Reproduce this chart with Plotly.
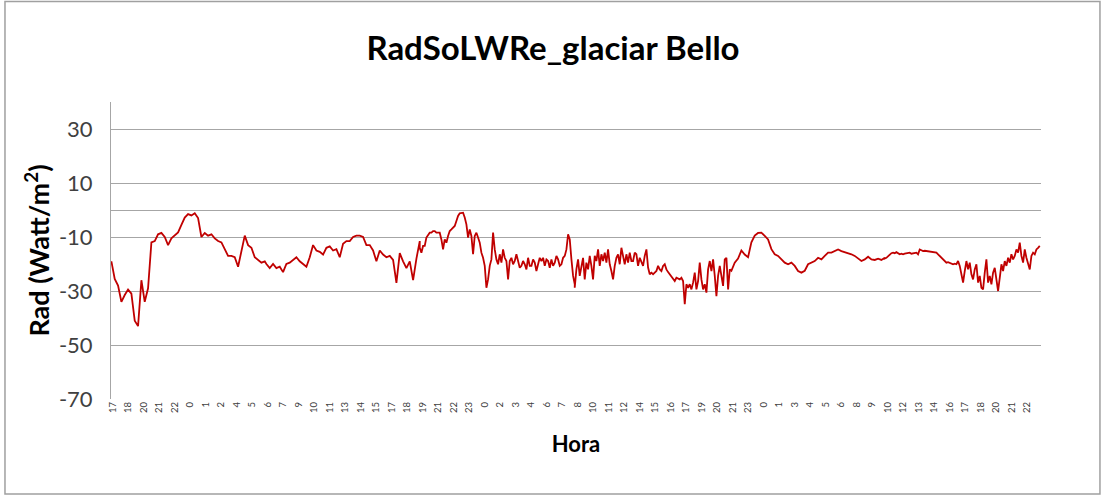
import numpy as np
import plotly.graph_objects as go

# Hour labels shown on the category axis
hour_labels = ["17","18","20","21","22","0","1","2","4","5","6","7","9","10","11","13","14","15",
               "17","18","19","21","22","23","0","2","3","4","6","7","8","10","11","12","14","15",
               "16","17","19","20","21","23","0","1","3","4","5","6","8","9","10","12","13","14",
               "16","17","18","20","21","22"]

y_ticks = [-70, -50, -30, -10, 10, 30]
y_tick_text = ["-70", "-50", "-30", "-10", "10", "30"]

# Radiation readings (W/m2), in six consecutive time blocks
# (each block spans 10 label slots; blocks 1,2,5 read coarser, 3,4,6 read finer)
rad_seg1 = [-19,-25.5,-28,-34,-31.5,-29.5,-31,-41,-43,-26,-34,-29,-12,-11.5,-9,-8.5,-10,-13,-10.5,-9.5,
            -8.3,-5.5,-2.8,-1.5,-2,-1.2,-3,-10,-8.5,-9.5,-9,-10.5,-11.5,-12,-14.5,-17,-17,-17.5,-21,-15,
            -9.5,-13,-14,-17.5,-18.5,-19.5,-19]
rad_seg2 = [-20,-21.5,-20,-21.5,-21,-23,-20,-19.5,-18.5,-17.5,-19,-20,-21,-17.5,-13,-15,-15.5,-16.5,-14,-13.5,
            -15,-14.5,-17.5,-12.5,-11.5,-11.5,-10,-9.5,-9.5,-10,-13,-13,-15,-19,-15,-16.5,-17.5,-17,-18.5,-27,
            -16,-19,-21.5,-19,-26,-18,-11.5]
rad_seg3 = [-14.0,-15.8,-13.3,-13.3,-10.2,-9.0,-8.4,-8.4,-7.8,-7.8,-8.4,-8.4,-8.4,-10.9,-14.6,-10.9,-12.1,-9.6,-7.8,-7.2,
            -6.5,-5.9,-4.1,-2.2,-1.2,-1.0,-1.0,-2.8,-5.3,-10.2,-7.2,-9.6,-16.4,-9.6,-8.4,-10.2,-12.1,-15.8,-17.7,-20.7,
            -28.8,-25.7,-20.7,-18.3,-8.4,-14.6,-18.3,-20.1,-16.4,-19.5,-14.6,-17.7,-18.9,-25.7,-18.9,-17.7,-20.1,-18.9,-16.4,-18.9,
            -21.4,-20.7,-18.9,-20.1,-22.0,-17.7,-20.7,-20.7,-18.3,-19.5,-22.6,-20.1,-17.7,-18.9,-17.7,-20.7,-18.3,-18.9,-21.4,-18.3,
            -20.7,-19.5,-17.0,-18.3,-20.7,-20.1,-17.7,-17.0,-14.6,-9.0,-10.9,-18.3,-24.4,-27.5]
rad_seg4 = [-28.8,-22.0,-18.3,-24.4,-20.7,-17.7,-25.7,-19.5,-22.0,-17.0,-20.7,-25.7,-17.0,-18.9,-14.6,-20.7,-16.4,-18.9,-15.8,-19.5,
            -14.6,-20.1,-22.6,-25.7,-20.7,-17.7,-16.4,-20.1,-14.0,-17.7,-20.1,-16.4,-19.5,-15.8,-18.9,-18.9,-15.8,-16.4,-20.7,-17.7,
            -19.5,-20.7,-17.0,-14.6,-21.3,-23.8,-23.2,-23.8,-23.2,-22.6,-20.7,-22.0,-22.6,-20.7,-20.1,-22.0,-23.0,-23.8,-24.7,-25.7,
            -26.3,-25.1,-25.4,-25.7,-25.1,-26.3,-34.9,-27.5,-28.8,-27.5,-29.4,-26.9,-23.2,-29.4,-26.3,-19.5,-25.7,-29.4,-27.5,-30.6,
            -22.0,-18.9,-22.6,-18.3,-24.4,-31.9,-24.4,-20.7,-24.4,-28.1,-18.3,-17.7,-29.4,-22.0]
rad_seg5 = [-22.5,-19.5,-18,-15,-16.5,-17.5,-12,-9.5,-8.5,-8.4,-9.6,-10.9,-14.5,-16.4,-17,-18.3,-19.5,-20.1,-19.5,-20.7,
            -22.6,-23.2,-22.5,-20.1,-19.5,-18.9,-17.7,-18.3,-17,-15.8,-15.8,-15.2,-14.6,-15.2,-15.6,-15.8,-16.4,-17,-18,-18.9,
            -18.3,-17.3,-18.3,-18.5,-18,-18.5,-17.7]
rad_seg6 = [-18.0,-17.7,-17.0,-16.4,-16.0,-15.8,-16.0,-15.6,-16.0,-16.4,-16.2,-16.4,-16.2,-16.0,-15.8,-15.8,-16.2,-16.0,-15.8,-15.8,
            -16.4,-14.6,-14.9,-15.2,-15.1,-15.2,-15.3,-15.3,-15.4,-15.4,-15.6,-15.8,-16.4,-17.0,-17.7,-18.3,-18.9,-19.5,-19.3,-19.5,
            -19.9,-20.1,-19.9,-20.1,-18.9,-20.7,-23.8,-26.9,-22.6,-18.9,-22.0,-19.5,-23.8,-25.7,-22.0,-20.1,-26.9,-24.4,-28.8,-29.4,
            -23.2,-18.3,-26.9,-24.4,-27.5,-23.2,-21.4,-26.9,-30.0,-25.1,-20.1,-22.6,-18.9,-20.7,-17.7,-19.5,-16.4,-18.3,-17.0,-14.6,
            -15.8,-12.1,-17.0,-19.5,-14.6,-17.7,-20.1,-22.0,-17.0,-15.8,-16.4,-14.6,-14.0,-13.3]

segments = [rad_seg1, rad_seg2, rad_seg3, rad_seg4, rad_seg5, rad_seg6]

# time axis in label-slot units (label i sits at i)
block_len = 10.0
block_start = -0.30
ts, ys = [], []
for k, seg in enumerate(segments):
    t0 = block_start + k * block_len
    n = len(seg)
    dt = 10.11 / n
    ts.extend(t0 + dt * (np.arange(n) + 1))
    ys.extend(seg)

fig = go.Figure()
fig.add_trace(go.Scatter(x=ts, y=ys, mode="lines",
                         line=dict(color="#C00000", width=1.8), showlegend=False))

grid = "#A6A6A6"
FONT = "Lato, Open Sans, sans-serif"
fig.update_layout(
    width=1106, height=497,
    margin=dict(l=111, r=65, t=102, b=98),
    paper_bgcolor="white", plot_bgcolor="white",
    font=dict(family=FONT, color="#404040"),
    title=dict(text="<b>RadSoLWRe_glaciar Bello</b>", x=0.5, xanchor="center",
               y=0.903, yanchor="middle", font=dict(size=33, color="black", family=FONT)),
    xaxis=dict(range=[-0.11, 59.89], tickmode="array", tickvals=list(range(len(hour_labels))),
               ticktext=hour_labels, tickangle=-90, tickfont=dict(size=9.5, color="#404040"),
               showgrid=False, zeroline=False, showline=False, ticks="",
               title=dict(text="<b>Hora</b>", font=dict(size=22, color="black"), standoff=24)),
    yaxis=dict(range=[-70, 40], tickmode="array", tickvals=y_ticks, ticktext=y_tick_text,
               tickfont=dict(size=22, color="#404040"), showgrid=True, gridcolor=grid, gridwidth=1,
               zeroline=True, zerolinecolor=grid, zerolinewidth=1, ticklabelstandoff=13,
               showline=True, linecolor=grid, linewidth=1, ticks="",
               title=dict(text="<b>Rad (Watt/m<sup>2</sup>)</b>", font=dict(size=27, color="black"), standoff=1)),
)
fig.add_shape(type="rect", xref="paper", yref="paper", x0=-0.114, x1=1.0634, y0=-0.3199, y1=1.338,
              line=dict(color="#A0A0A0", width=1.5), fillcolor="rgba(0,0,0,0)", layer="below")

fig.write_html("out.html", config={"displayModeBar": False},
               post_script="document.body.style.margin='0';")
